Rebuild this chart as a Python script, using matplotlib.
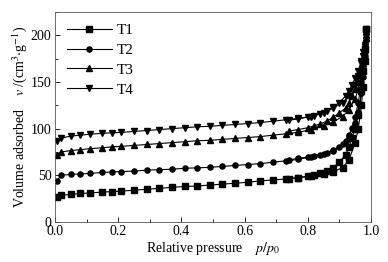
import matplotlib
matplotlib.use("Agg")
import matplotlib.pyplot as plt
from matplotlib.ticker import MultipleLocator

plt.rcParams['font.family'] = ['Liberation Serif', 'DejaVu Serif']
plt.rcParams['mathtext.fontset'] = 'stix'

# relative pressure, adsorption and desorption branches
p_ads = [0.005, 0.02, 0.05, 0.08, 0.11, 0.15, 0.18, 0.21, 0.25, 0.29, 0.33, 0.37,
         0.41, 0.45, 0.49, 0.53, 0.57, 0.61, 0.65, 0.69, 0.73, 0.77, 0.81, 0.85,
         0.88, 0.91, 0.93, 0.95, 0.96, 0.97, 0.975, 0.98, 0.985]
p_des = [0.985, 0.98, 0.975, 0.97, 0.96, 0.95, 0.94, 0.93, 0.92, 0.90, 0.88,
         0.86, 0.84, 0.82, 0.80, 0.77, 0.74]

t1_ads = [27, 28.5, 29.5, 30.5, 31, 32, 32.5, 33, 34, 35, 36, 37, 38, 38.5, 39.5,
          40.5, 41.5, 42.5, 44, 45, 46, 47.5, 49, 51.5, 54, 58, 66, 85, 100, 125,
          145, 172, 207]
t1_des = [207, 185, 162, 140, 115, 100, 90, 80, 72, 64, 58, 55, 52.5, 50.5, 49,
          47.5, 46.5]

t2_ads = [44, 50, 51, 51.5, 52, 53, 53.5, 54, 54.5, 55.5, 56, 56.5, 57.5, 58, 58.5,
          59.5, 60.5, 61.5, 62.5, 64, 65.5, 67, 70, 73, 77, 83, 92, 106, 118, 138,
          155, 178, 202]
t2_des = [202, 182, 165, 150, 128, 112, 101, 93, 87, 80, 76, 73.5, 72, 70.5, 69.5,
          68, 66.5]

t3_ads = [72, 75, 76.5, 77.5, 78.5, 79.5, 80.5, 81, 82, 83, 84, 85, 86, 87, 87.5,
          88.5, 89.5, 90.5, 91.5, 93, 94.5, 96, 99, 103, 107, 113, 120, 132, 142,
          158, 170, 185, 197]
t3_des = [197, 188, 175, 163, 150, 142, 135, 128, 122, 117, 112, 108, 105, 103,
          101, 99, 97.5]

t4_ads = [87, 90, 92, 93, 94, 95, 95.5, 96, 97, 98, 99, 100, 101, 102, 102.5, 103.5,
          104.5, 105.5, 106.5, 108, 109.5, 111, 113, 117, 122, 128, 135, 147, 156,
          170, 178, 188, 195]
t4_des = [195, 190, 182, 173, 162, 154, 147, 140, 135, 128, 123, 119, 116, 114,
          112.5, 110.5, 109]

series = [("T1", "s", t1_ads, t1_des),
          ("T2", "o", t2_ads, t2_des),
          ("T3", "^", t3_ads, t3_des),
          ("T4", "v", t4_ads, t4_des)]

fig = plt.figure(figsize=(3.88, 2.62), dpi=100)
ax = fig.add_axes([0.142, 0.153, 0.814, 0.801])

for name, mk, ads, des in series:
    ax.plot(p_ads, ads, color='black', linewidth=0.8, marker=mk, markersize=3.7,
            label=name)
    ax.plot(p_des, des, color='black', linewidth=0.8, marker=mk, markersize=3.7)

ax.set_xlim(0, 1.0)
ax.set_ylim(0, 225)
ax.xaxis.set_major_locator(MultipleLocator(0.2))
ax.xaxis.set_minor_locator(MultipleLocator(0.1))
ax.yaxis.set_major_locator(MultipleLocator(50))
ax.yaxis.set_minor_locator(MultipleLocator(25))
ax.tick_params(which='both', direction='in', top=False, right=False, labelsize=10)
ax.tick_params(which='major', length=3.5, width=0.6, pad=2.5)
ax.tick_params(which='minor', length=2, width=0.6)
for s in ax.spines.values():
    s.set_linewidth(0.6)
    s.set_color('#555555')

ax.set_xlabel('Relative pressure    $p/p_0$', fontsize=10, labelpad=1)
ax.set_ylabel('Volume adsorbed    $v$ /(cm$^3$$\\cdot$g$^{-1}$)', fontsize=10,
              labelpad=1)

leg = ax.legend(loc='upper left', frameon=False, fontsize=11, handlelength=3.0,
                handletextpad=0.3, labelspacing=0.4, borderaxespad=0.35)

fig.savefig('out.png', dpi=100)
